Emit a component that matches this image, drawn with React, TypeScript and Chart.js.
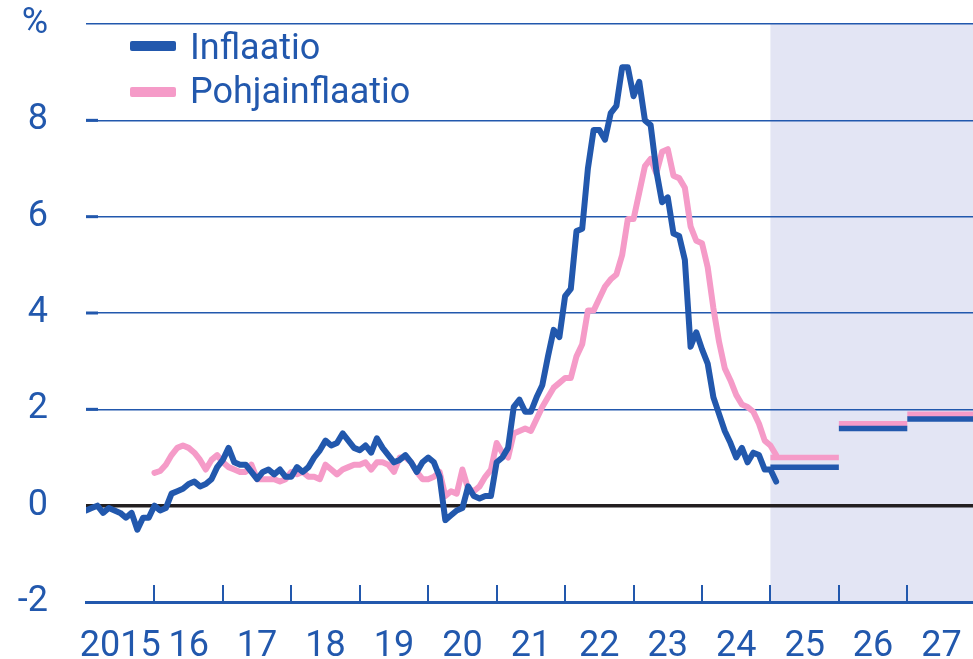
import React, { useEffect, useRef } from 'react';
import { Chart, registerables } from 'chart.js';

Chart.register(...registerables);

// ---------- data ----------
const inflaatioStart = 2015; // Jan 2015, monthly
const inflaatio = [
  // 2015
  -0.1, -0.05, 0.0, -0.15, -0.05, -0.1, -0.15, -0.25, -0.15, -0.5, -0.25, -0.25,
  // 2016
  0.0, -0.1, -0.05, 0.25, 0.3, 0.35, 0.45, 0.5, 0.4, 0.45, 0.55, 0.8,
  // 2017
  0.95, 1.2, 0.9, 0.85, 0.85, 0.7, 0.55, 0.7, 0.75, 0.65, 0.75, 0.6,
  // 2018
  0.6, 0.8, 0.7, 0.8, 1.0, 1.15, 1.35, 1.25, 1.3, 1.5, 1.35, 1.2,
  // 2019
  1.15, 1.25, 1.1, 1.4, 1.2, 1.05, 0.9, 0.95, 1.05, 0.9, 0.7, 0.9,
  // 2020
  1.0, 0.9, 0.6, -0.3, -0.2, -0.1, -0.05, 0.4, 0.2, 0.15, 0.2, 0.2,
  // 2021
  0.9, 1.0, 1.2, 2.05, 2.2, 1.95, 1.95, 2.25, 2.5, 3.1, 3.65, 3.5,
  // 2022
  4.35, 4.5, 5.7, 5.75, 7.0, 7.8, 7.8, 7.6, 8.15, 8.3, 9.1, 9.1,
  // 2023
  8.5, 8.8, 8.0, 7.9, 6.95, 6.3, 6.4, 5.65, 5.6, 5.1, 3.3, 3.6,
  // 2024
  3.25, 2.95, 2.25, 1.9, 1.55, 1.3, 1.0, 1.2, 0.9, 1.1, 1.05, 0.75,
  // 2025
  0.75, 0.5,
];

const pohjaStart = 2016; // Jan 2016, monthly
const pohjainflaatio = [
  // 2016
  0.68, 0.72, 0.85, 1.05, 1.2, 1.25, 1.2, 1.1, 0.95, 0.75, 0.95, 1.05,
  // 2017
  0.9, 0.8, 0.75, 0.7, 0.7, 0.85, 0.55, 0.55, 0.55, 0.55, 0.5, 0.55,
  // 2018
  0.7, 0.65, 0.7, 0.6, 0.6, 0.55, 0.85, 0.75, 0.65, 0.75, 0.8, 0.85,
  // 2019
  0.85, 0.9, 0.75, 0.9, 0.9, 0.85, 0.7, 1.0, 1.0, 0.9, 0.7, 0.55,
  // 2020
  0.55, 0.6, 0.7, 0.2, 0.3, 0.25, 0.75, 0.35, 0.3, 0.4, 0.6, 0.75,
  // 2021
  1.3, 1.1, 1.0, 1.5, 1.55, 1.6, 1.55, 1.8, 2.05, 2.25, 2.45, 2.55,
  // 2022
  2.65, 2.65, 3.1, 3.35, 4.05, 4.05, 4.3, 4.55, 4.7, 4.8, 5.2, 5.95,
  // 2023
  5.95, 6.5, 7.05, 7.2, 6.9, 7.35, 7.4, 6.85, 6.8, 6.6, 5.8, 5.5,
  // 2024
  5.45, 4.95, 4.1, 3.4, 2.85, 2.6, 2.3, 2.1, 2.05, 1.95, 1.7, 1.35,
  // 2025
  1.25, 1.05,
];

const forecastYears = [2025, 2026, 2027];
const inflaatioForecast = [0.8, 1.6, 1.8];
const pohjaForecast = [1.0, 1.7, 1.9];

const xTickYears = [2015, 2016, 2017, 2018, 2019, 2020, 2021, 2022, 2023, 2024, 2025, 2026, 2027];
const xLabels = ['2015', '16', '17', '18', '19', '20', '21', '22', '23', '24', '25', '26', '27'];
const yTicks = [-2, 0, 2, 4, 6, 8, 10];
const forecastStart = 2025;

const seriesNames = ['Inflaatio', 'Pohjainflaatio'];

// ---------- styles ----------
const BLUE = '#2258ad';
const PINK = '#f59bc8';
const SHADE = '#e3e5f4';
const ZERO = '#231f20';
const FONT = 'Roboto, "Noto Sans", sans-serif';

const monthly = (start: number, vals: number[]) =>
  vals.map((v, i) => ({ x: start + i / 12, y: v }));

const yearBars = (vals: number[]) => {
  const out: { x: number; y: number | null }[] = [];
  forecastYears.forEach((yr, i) => {
    out.push({ x: yr, y: vals[i] });
    out.push({ x: yr + 1, y: vals[i] });
    out.push({ x: yr + 1, y: null });
  });
  return out;
};

const decoPlugin = {
  id: 'deco',
  beforeDraw(chart: any) {
    const { ctx, chartArea, scales } = chart;
    const x0 = scales.x.getPixelForValue(forecastStart);
    ctx.save();
    ctx.fillStyle = SHADE;
    ctx.fillRect(x0, chartArea.top, chartArea.right - x0, chartArea.bottom - chartArea.top);
    ctx.restore();
  },
  afterDraw(chart: any) {
    const { ctx, chartArea, scales } = chart;
    ctx.save();
    ctx.strokeStyle = BLUE;
    ctx.lineWidth = 2;
    xTickYears.slice(1).forEach((yr) => {
      const px = Math.round(scales.x.getPixelForValue(yr));
      ctx.beginPath();
      ctx.moveTo(px, chartArea.bottom - 17);
      ctx.lineTo(px, chartArea.bottom);
      ctx.stroke();
    });
    ctx.lineWidth = 3;
    [2, 4, 6, 8].forEach((v) => {
      const py = scales.y.getPixelForValue(v);
      ctx.beginPath();
      ctx.moveTo(chartArea.left, py);
      ctx.lineTo(chartArea.left + 12, py);
      ctx.stroke();
    });
    ctx.restore();
  },
};

export default function App() {
  const ref = useRef<HTMLCanvasElement | null>(null);

  useEffect(() => {
    if (!ref.current) return;
    const chart = new Chart(ref.current, {
      type: 'line',
      data: {
        datasets: [
          {
            label: seriesNames[0],
            data: monthly(inflaatioStart, inflaatio),
            borderColor: BLUE,
            borderWidth: 6,
            pointRadius: 0,
            tension: 0,
            borderJoinStyle: 'round',
            borderCapStyle: 'round',
          },
          {
            label: seriesNames[1],
            data: monthly(pohjaStart, pohjainflaatio),
            borderColor: PINK,
            borderWidth: 6,
            pointRadius: 0,
            tension: 0,
            borderJoinStyle: 'round',
            borderCapStyle: 'round',
          },
          {
            label: seriesNames[0] + ' ennuste',
            data: yearBars(inflaatioForecast),
            borderColor: BLUE,
            borderWidth: 5.5,
            pointRadius: 0,
            spanGaps: false,
            borderCapStyle: 'butt',
          },
          {
            label: seriesNames[1] + ' ennuste',
            data: yearBars(pohjaForecast),
            borderColor: PINK,
            borderWidth: 5.5,
            pointRadius: 0,
            spanGaps: false,
            borderCapStyle: 'butt',
          },
        ],
      },
      options: {
        responsive: false,
        animation: false,
        devicePixelRatio: 1,
        layout: { padding: { top: 24, right: 0, left: 0, bottom: 0 } },
        plugins: {
          legend: { display: false },
          tooltip: { enabled: false },
        },
        scales: {
          x: {
            type: 'linear',
            min: 2015,
            max: 2027.96,
            afterBuildTicks: (scale: any) => {
              scale.ticks = xTickYears.map((y) => ({ value: y + 0.5 }));
            },
            afterFit: (scale: any) => {
              scale.height = 57;
              scale.paddingLeft = 0;
              scale.paddingRight = 0;
            },
            grid: { display: false, drawTicks: false },
            border: { display: true, color: BLUE, width: 3 },
            ticks: {
              autoSkip: false,
              maxRotation: 0,
              padding: 23,
              color: BLUE,
              font: { family: FONT, size: 36 },
              callback: (_v: any, i: number) => xLabels[i],
            },
          },
          y: {
            type: 'linear',
            min: -2,
            max: 10,
            afterBuildTicks: (scale: any) => {
              scale.ticks = yTicks.map((v) => ({ value: v }));
            },
            afterFit: (scale: any) => {
              scale.width = 86;
              scale.paddingTop = 0;
              scale.paddingBottom = 0;
            },
            border: { display: false },
            grid: {
              drawTicks: false,
              color: (c: any) => (c.tick && c.tick.value === 0 ? ZERO : BLUE),
              lineWidth: (c: any) =>
                c.tick && c.tick.value === 0 ? 3.5 : c.tick && c.tick.value === -2 ? 3 : 1.5,
            },
            ticks: {
              padding: 38,
              color: BLUE,
              font: { family: FONT, size: 36 },
              callback: (v: any) => (v === 10 ? '%' : String(v)),
            },
          },
        },
      },
      plugins: [decoPlugin],
    } as any);
    return () => chart.destroy();
  }, []);

  const textStyle: React.CSSProperties = {
    position: 'absolute',
    left: 190,
    fontFamily: FONT,
    fontSize: 36,
    lineHeight: '42px',
    color: BLUE,
    whiteSpace: 'nowrap',
  };

  return (
    <div style={{ position: 'absolute', left: 0, top: 0, width: 973, height: 659, background: '#fff' }}>
      <canvas ref={ref} width={973} height={659} style={{ position: 'absolute', left: 0, top: 0, width: 973, height: 659 }} />
      <div style={{ position: 'absolute', left: 130, top: 41, width: 46, height: 10, borderRadius: 2, background: BLUE }} />
      <div style={{ ...textStyle, top: 26 }}>{seriesNames[0]}</div>
      <div style={{ position: 'absolute', left: 130, top: 87, width: 46, height: 10, borderRadius: 2, background: PINK }} />
      <div style={{ ...textStyle, top: 70 }}>{seriesNames[1]}</div>
    </div>
  );
}
